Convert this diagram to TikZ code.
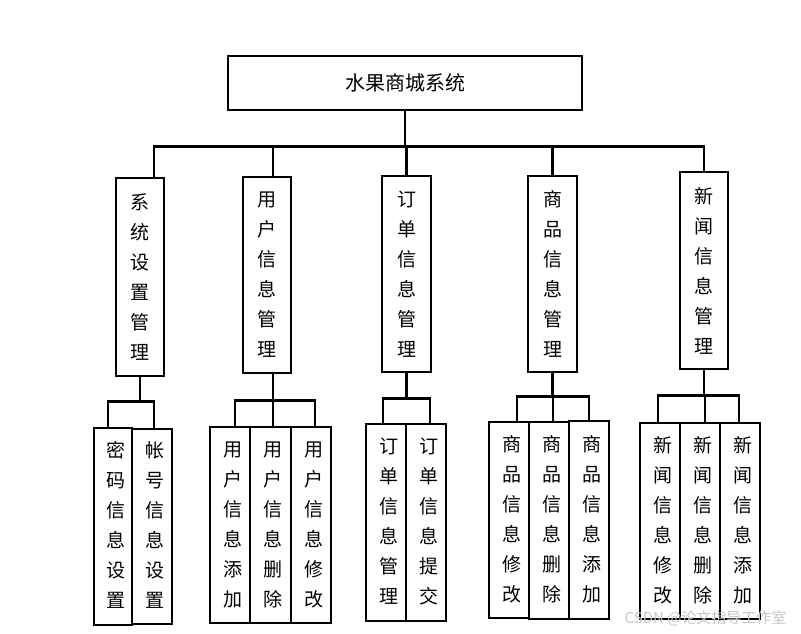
\documentclass[tikz,border=0pt]{standalone}
\usepackage{fontspec}
\newfontfamily\cjk{Noto Sans CJK SC}
\usetikzlibrary{positioning}

% leaf text sits a little right of the box centre
\newcommand\leaftext[1]{\hspace*{5pt}\begin{tabular}{@{}c@{}}#1\end{tabular}}

\tikzset{
    box/.style={draw, line width=2.6pt, inner sep=0pt, align=center, font=\cjk\fontsize{19}{30}\selectfont},
    leaf/.style={draw, line width=2.6pt, inner sep=0pt, font=\cjk\fontsize{19}{30}\selectfont},
    link/.style={line width=2.6pt},
}

\begin{document}
\begin{tikzpicture}[x=1pt,y=1pt]
    \useasboundingbox (0,0) rectangle (801,-634);
    % top
    \node[box, minimum width=354, minimum height=54, font=\cjk\fontsize{20}{24}\selectfont] (root) at (405,-83) {水果商城系统};
    % second level
    \node[box, minimum width=48, minimum height=198] (sys) at (140,-277) {系\\统\\设\\置\\管\\理};
    \node[box, minimum width=48, minimum height=196] (user) at (267,-275) {用\\户\\信\\息\\管\\理};
    \node[box, minimum width=49, minimum height=196] (order) at (406.5,-274) {订\\单\\信\\息\\管\\理};
    \node[box, minimum width=49, minimum height=196] (goods) at (552.5,-274) {商\\品\\信\\息\\管\\理};
    \node[box, minimum width=48, minimum height=197] (news) at (704,-270.5) {新\\闻\\信\\息\\管\\理};
    % third level
    \node[leaf, minimum width=38, minimum height=197] (sys1) at (113,-526.5) {\leaftext{密\\码\\信\\息\\设\\置}};
    \node[leaf, minimum width=40, minimum height=195] (sys2) at (152,-526.5) {\leaftext{帐\\号\\信\\息\\设\\置}};
    \node[leaf, minimum width=40, minimum height=196] (user1) at (230,-525) {\leaftext{用\\户\\信\\息\\添\\加}};
    \node[leaf, minimum width=41, minimum height=196] (user2) at (270.5,-525) {\leaftext{用\\户\\信\\息\\删\\除}};
    \node[leaf, minimum width=40, minimum height=196] (user3) at (311,-525) {\leaftext{用\\户\\信\\息\\修\\改}};
    \node[leaf, minimum width=40, minimum height=197] (order1) at (386,-522.5) {\leaftext{订\\单\\信\\息\\管\\理}};
    \node[leaf, minimum width=40, minimum height=197] (order2) at (426,-522.5) {\leaftext{订\\单\\信\\息\\提\\交}};
    \node[leaf, minimum width=40, minimum height=196] (goods1) at (509,-520) {\leaftext{商\\品\\信\\息\\修\\改}};
    \node[leaf, minimum width=40, minimum height=197] (goods2) at (549,-520.5) {\leaftext{商\\品\\信\\息\\删\\除}};
    \node[leaf, minimum width=40, minimum height=198] (goods3) at (589,-520) {\leaftext{商\\品\\信\\息\\添\\加}};
    \node[leaf, minimum width=40, minimum height=196] (news1) at (660,-521) {\leaftext{新\\闻\\信\\息\\修\\改}};
    \node[leaf, minimum width=40, minimum height=196] (news2) at (700,-521) {\leaftext{新\\闻\\信\\息\\删\\除}};
    \node[leaf, minimum width=40, minimum height=196] (news3) at (740,-521) {\leaftext{新\\闻\\信\\息\\添\\加}};

    % main bus
    \draw[link] (root.south) -- ++(0,-35) coordinate (bus);
    \draw[link] ([xshift=14pt]sys.north) |- (bus) -| (news.north);
    \draw[link] ([xshift=6pt]user.north) -- ([xshift=6pt]user.north |- bus);
    \draw[link] (order.north) -- (order.north |- bus);
    \draw[link] (goods.north) -- (goods.north |- bus);

    % sub buses
    \draw[link] (sys.south) -- ++(0,-24) coordinate (jsys);
    \draw[link] ([xshift=-5pt]sys1.north) |- (jsys) -| ([xshift=2pt]sys2.north);

    \draw[link] ([xshift=6pt]user.south) -- ++(0,-26) coordinate (juser);
    \draw[link] ([xshift=5pt]user1.north) |- (juser) -| ([xshift=4pt]user3.north);
    \draw[link] ([xshift=2.5pt]user2.north) -- ([xshift=2.5pt]user2.north |- juser);

    \draw[link] (order.south) -- ++(0,-25) coordinate (jorder);
    \draw[link] ([xshift=-3pt]order1.north) |- (jorder) -| ([xshift=4pt]order2.north);

    \draw[link] (goods.south) -- ++(0,-23) coordinate (jgoods);
    \draw[link] ([xshift=8pt]goods1.north) |- (jgoods) -| (goods3.north);
    \draw[link] ([xshift=4pt]goods2.north) -- ([xshift=4pt]goods2.north |- jgoods);

    \draw[link] (news.south) -- ++(0,-25) coordinate (jnews);
    \draw[link] ([xshift=-2pt]news1.north) |- (jnews) -| ([xshift=-1pt]news3.north);
    \draw[link] ([xshift=5pt]news2.north) -- ([xshift=5pt]news2.north |- jnews);

    % watermark
    \node[text=gray!45, font=\cjk\fontsize{15}{18}\selectfont, anchor=east] (mark) at (790,-618) {CSDN @论文指导工作室};
\end{tikzpicture}
\end{document}
